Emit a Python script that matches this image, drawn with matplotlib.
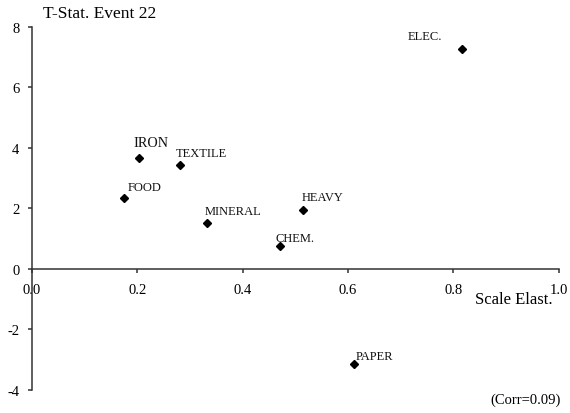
import matplotlib
matplotlib.use("Agg")
import matplotlib.pyplot as plt

plt.rcParams["font.family"] = ["Liberation Serif", "DejaVu Serif"]
plt.rcParams["axes.unicode_minus"] = False

# Industry scale elasticities vs. event t-statistics
industries = ["ELEC.", "IRON", "TEXTILE", "FOOD", "MINERAL", "HEAVY", "CHEM.", "PAPER"]
scale_elast = [0.817, 0.203, 0.281, 0.175, 0.332, 0.514, 0.470, 0.612]
t_stat = [7.27, 3.66, 3.42, 2.33, 1.52, 1.96, 0.77, -3.15]

x_ticks = [0.0, 0.2, 0.4, 0.6, 0.8, 1.0]
x_tick_labels = ["0.0", "0.2", "0.4", "0.6", "0.8", "1.0"]
y_ticks = [-4, -2, 0, 2, 4, 6, 8]
y_tick_labels = ["-4", "-2", "0", "2", "4", "6", "8"]

# label offsets (points) and sizes for each industry label
label_offsets = {
    "ELEC.": (-14.5, 9.5, "right"),
    "IRON": (-4.2, 11.5, "left"),
    "TEXTILE": (-3.2, 8.6, "left"),
    "FOOD": (2.6, 8.2, "left"),
    "MINERAL": (-1.9, 8.6, "left"),
    "HEAVY": (-0.8, 9.1, "left"),
    "CHEM.": (-3.2, 5.5, "left"),
    "PAPER": (0.7, 5.5, "left"),
}
label_sizes = {"IRON": 10.3}

W, H = 570, 414
fig = plt.figure(figsize=(W / 100, H / 100), dpi=100)
ax = fig.add_axes([32 / W, 1 - 390.7 / H, (558.7 - 32) / W, (390.7 - 28) / H])

ax.plot(scale_elast, t_stat, linestyle="none", marker="D", markersize=4.5,
        color="black")

for name, xv, yv in zip(industries, scale_elast, t_stat):
    dx, dy, ha = label_offsets[name]
    ax.annotate(name, (xv, yv), xytext=(dx, dy), textcoords="offset points",
                ha=ha, va="center", fontsize=label_sizes.get(name, 9),
                color="#111111")

ax.set_xlim(0, 1)
ax.set_ylim(-4, 8)
ax.set_xticks(x_ticks)
ax.set_xticklabels(x_tick_labels)
ax.set_yticks(y_ticks)
ax.set_yticklabels(y_tick_labels)

for side in ("top", "right"):
    ax.spines[side].set_visible(False)
ax.spines["bottom"].set_position(("data", 0))
for side in ("left", "bottom"):
    ax.spines[side].set_color("#333333")
    ax.spines[side].set_linewidth(1.1)

ax.tick_params(axis="x", direction="out", length=3, width=1.1, color="#333333",
               pad=7, labelsize=10.5)
ax.tick_params(axis="y", direction="out", length=3, width=1.1, color="#333333",
               pad=6, labelsize=10.5)
ax.patch.set_visible(False)

fig.text(43 / W, 1 - 14 / H, "T-Stat. Event 22", ha="left", va="center",
         fontsize=12.5)
fig.text(553 / W, 1 - 300 / H, "Scale Elast.", ha="right", va="center",
         fontsize=12)
fig.text(561 / W, 1 - 400.5 / H, "(Corr=0.09)", ha="right", va="center",
         fontsize=10.5)

fig.savefig("out.png", dpi=100)
